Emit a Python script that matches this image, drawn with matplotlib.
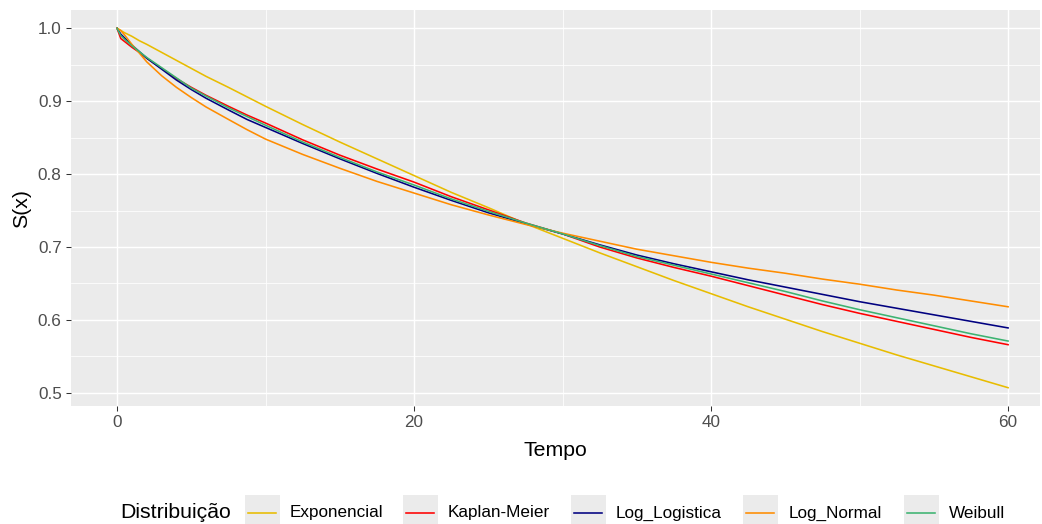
import matplotlib
matplotlib.use("Agg")
import matplotlib.pyplot as plt
from matplotlib.lines import Line2D
from matplotlib.patches import Rectangle

# Survival curves S(x) by fitted distribution
tempo = [0, 0.25, 0.5, 1, 1.5, 2, 3, 4, 5, 6, 7.5, 8.75, 10, 12.5, 15, 17.5, 20,
         22.5, 25, 27.5, 30, 32.5, 35, 37.5, 40, 42.5, 45, 47.5, 50, 52.5, 55,
         57.5, 60]

exponencial = [1.000, 0.997, 0.994, 0.989, 0.983, 0.978, 0.967, 0.956, 0.945,
               0.934, 0.919, 0.906, 0.893, 0.868, 0.844, 0.821, 0.798, 0.775,
               0.754, 0.732, 0.712, 0.692, 0.673, 0.654, 0.636, 0.618, 0.601,
               0.584, 0.568, 0.552, 0.537, 0.522, 0.507]
kaplan_meier = [1.000, 0.986, 0.982, 0.974, 0.967, 0.959, 0.945, 0.931, 0.919,
                0.908, 0.893, 0.881, 0.870, 0.847, 0.826, 0.807, 0.789, 0.769,
                0.751, 0.733, 0.718, 0.700, 0.685, 0.672, 0.660, 0.647, 0.634,
                0.621, 0.609, 0.598, 0.587, 0.576, 0.566]
log_logistica = [1.000, 0.992, 0.987, 0.977, 0.968, 0.959, 0.944, 0.929, 0.916,
                 0.904, 0.888, 0.875, 0.864, 0.842, 0.821, 0.801, 0.782, 0.764,
                 0.747, 0.732, 0.718, 0.703, 0.689, 0.677, 0.666, 0.655, 0.645,
                 0.635, 0.625, 0.616, 0.607, 0.598, 0.589]
log_normal = [1.000, 0.997, 0.991, 0.978, 0.966, 0.954, 0.935, 0.919, 0.905,
              0.892, 0.875, 0.861, 0.848, 0.827, 0.808, 0.790, 0.774, 0.758,
              0.744, 0.731, 0.719, 0.708, 0.697, 0.688, 0.679, 0.671, 0.664,
              0.656, 0.649, 0.641, 0.634, 0.626, 0.618]
weibull = [1.000, 0.990, 0.985, 0.976, 0.968, 0.960, 0.946, 0.932, 0.918,
           0.907, 0.891, 0.879, 0.867, 0.844, 0.823, 0.803, 0.785, 0.766,
           0.749, 0.733, 0.718, 0.702, 0.687, 0.675, 0.663, 0.651, 0.639,
           0.626, 0.614, 0.603, 0.592, 0.581, 0.571]

nomes = ["Exponencial", "Kaplan-Meier", "Log_Logistica", "Log_Normal", "Weibull"]
series = [exponencial, kaplan_meier, log_logistica, log_normal, weibull]
cores = ["#E8BC00", "#FF0000", "#000080", "#FF8C00", "#3CB371"]

x_ticks = [0, 20, 40, 60]
x_minor = [10, 30, 50]
y_ticks = [0.5, 0.6, 0.7, 0.8, 0.9, 1.0]
y_minor = [0.55, 0.65, 0.75, 0.85, 0.95]

plt.rcParams["font.family"] = ["Liberation Sans", "DejaVu Sans"]

W, H = 1042, 524
fig = plt.figure(figsize=(W / 100, H / 100), dpi=100)
fig.patch.set_facecolor("white")

ax = fig.add_axes([71 / W, 1 - 406 / H, 969 / W, 396 / H])
ax.set_facecolor("#EBEBEB")
for s in ax.spines.values():
    s.set_visible(False)

# grid
for v in x_minor:
    ax.axvline(v, color="white", lw=0.55, zorder=0)
for v in y_minor:
    ax.axhline(v, color="white", lw=0.55, zorder=0)
for v in x_ticks:
    ax.axvline(v, color="white", lw=1.05, zorder=0)
for v in y_ticks:
    ax.axhline(v, color="white", lw=1.05, zorder=0)

for nome, vals, cor in zip(nomes, series, cores):
    ax.plot(tempo, vals, color=cor, lw=1.15, label=nome, zorder=2,
            solid_joinstyle="round")

ax.set_xlim(-3.1, 62.15)
ax.set_ylim(0.4819, 1.0251)
ax.set_xticks(x_ticks)
ax.set_xticklabels([str(v) for v in x_ticks])
ax.set_yticks(y_ticks)
ax.set_yticklabels([f"{v:.1f}" for v in y_ticks])
ax.tick_params(axis="both", length=3.7, width=0.75, color="#333333",
               labelcolor="#4D4D4D", labelsize=12.3, pad=3.0)

ax.set_xlabel("Tempo", fontsize=15.3, color="black", labelpad=8)
ax.set_ylabel("S(x)", fontsize=15.3, color="black", labelpad=5)

# legend along the bottom
ly = 1 - 513 / H
fig.text(120 / W, ly, "Distribuição", fontsize=15.3, color="black",
         ha="left", va="center")
box_centers = [262, 420, 588, 760, 921]
label_starts = [290, 448, 616, 789, 949]
bw, bh = 35, 36
for nome, cor, cx, lx in zip(nomes, cores, box_centers, label_starts):
    fig.patches.append(Rectangle(((cx - bw / 2) / W, ly - (bh / 2) / H), bw / W, bh / H,
                                 transform=fig.transFigure, facecolor="#EBEBEB",
                                 edgecolor="none"))
    fig.lines.append(Line2D([(cx - 14) / W, (cx + 14) / W], [ly, ly],
                            transform=fig.transFigure, color=cor, lw=1.15))
    fig.text(lx / W, ly, nome, fontsize=12.3, color="black", ha="left", va="center")

fig.savefig("out.png", dpi=100)
